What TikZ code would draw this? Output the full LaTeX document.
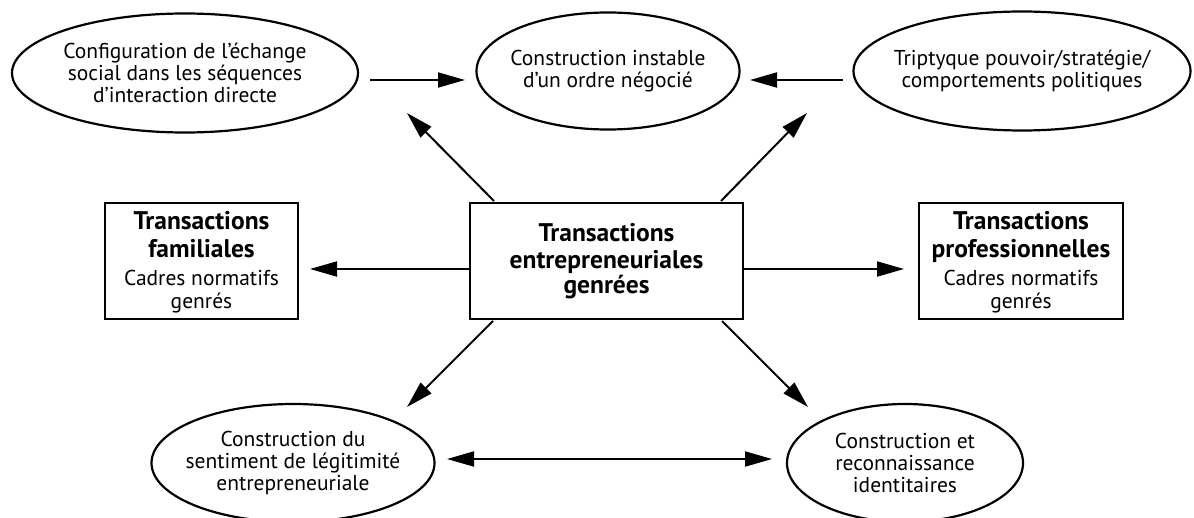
\documentclass[tikz,border=0pt]{standalone}
\usepackage{fontspec}
\setmainfont{PT Sans}
\usetikzlibrary{arrows.meta}
\tikzset{
  ovaltext/.style={inner sep=0pt, align=center, font=\fontsize{21.5}{22}\selectfont},
  ovalline/.style={line width=2.2pt},
  bx/.style={draw, rectangle, line width=2.2pt, inner sep=0pt, align=center},
  arr/.style={line width=2pt, -{Triangle[length=27pt,width=15pt]}},
  darr/.style={line width=2pt, {Triangle[length=27pt,width=15pt]}-{Triangle[length=27pt,width=15pt]}},
  bt/.style={font=\bfseries\fontsize{25.5}{26}\selectfont},
  rt/.style={font=\fontsize{21.5}{23}\selectfont},
}
\begin{document}
\begin{tikzpicture}[x=1pt,y=-1pt]
\useasboundingbox (0,0) rectangle (1194,518);
% ellipses
\node[ovaltext] (e1) at (185,73) {Configuration de l’échange\\social dans les séquences\\d’interaction directe};
\draw[ovalline] (e1.center) ellipse [x radius=173, y radius=59.5];
\node[ovaltext] (e2) at (608,71) {Construction instable\\d’un ordre négocié};
\draw[ovalline] (e2.center) ellipse [x radius=131.5, y radius=58.5];
\node[ovaltext] (e3) at (1022,71) {Triptyque pouvoir/stratégie/\\comportements politiques};
\draw[ovalline] (e3.center) ellipse [x radius=168.5, y radius=59.5];
\node[ovaltext] (e4) at (293,463) {Construction du\\sentiment de légitimité\\entrepreneuriale};
\draw[ovalline] (e4.center) ellipse [x radius=141.5, y radius=59];
\node[ovaltext] (e5) at (905,463) {Construction et\\reconnaissance\\identitaires};
\draw[ovalline] (e5.center) ellipse [x radius=118, y radius=59];
% boxes
\node[bx, minimum width=193pt, minimum height=116pt] (bl) at (201.5,261) {};
\node[bx, minimum width=273pt, minimum height=116pt] (bc) at (606.5,261) {};
\node[bx, minimum width=204pt, minimum height=116pt] (br) at (1021,261) {};
% box texts
\node[bt, anchor=base] (blt1) at (201.5,230) {Transactions};
\node[bt, anchor=base] (blt2) at (201.5,258) {familiales};
\node[rt, anchor=base] (blt3) at (201.5,286) {Cadres normatifs};
\node[rt, anchor=base] (blt4) at (201.5,309) {genrés};
\node[bt, anchor=base] (bct1) at (606.5,242) {Transactions};
\node[bt, anchor=base] (bct2) at (606.5,269) {entrepreneuriales};
\node[bt, anchor=base] (bct3) at (606.5,294) {genrées};
\node[bt, anchor=base] (brt1) at (1021,230) {Transactions};
\node[bt, anchor=base] (brt2) at (1021,258) {professionnelles};
\node[rt, anchor=base] (brt3) at (1021,286) {Cadres normatifs};
\node[rt, anchor=base] (brt4) at (1021,309) {genrés};
% coordinates
\coordinate (s1) at (370,80);
\coordinate (t1) at (465,80);
\coordinate (s2) at (843,80);
\coordinate (t2) at (750,80);
\coordinate (s3) at (494,201);
\coordinate (t3) at (407,113);
\coordinate (s4) at (721,201);
\coordinate (t4) at (807,113);
\coordinate (s5) at (470,269);
\coordinate (t5) at (310,269);
\coordinate (s6) at (743,269);
\coordinate (t6) at (904,269);
\coordinate (s7) at (493,321);
\coordinate (t7) at (407,407);
\coordinate (s8) at (722,321);
\coordinate (t8) at (808,407);
\coordinate (t9) at (447,459);
\coordinate (t10) at (772,459);
% arrows
\draw[arr] (s1) -- (t1);
\draw[arr] (s2) -- (t2);
\draw[arr] (s3) -- (t3);
\draw[arr] (s4) -- (t4);
\draw[arr] (s5) -- (t5);
\draw[arr] (s6) -- (t6);
\draw[arr] (s7) -- (t7);
\draw[arr] (s8) -- (t8);
\draw[darr] (t9) -- (t10);
\end{tikzpicture}
\end{document}
